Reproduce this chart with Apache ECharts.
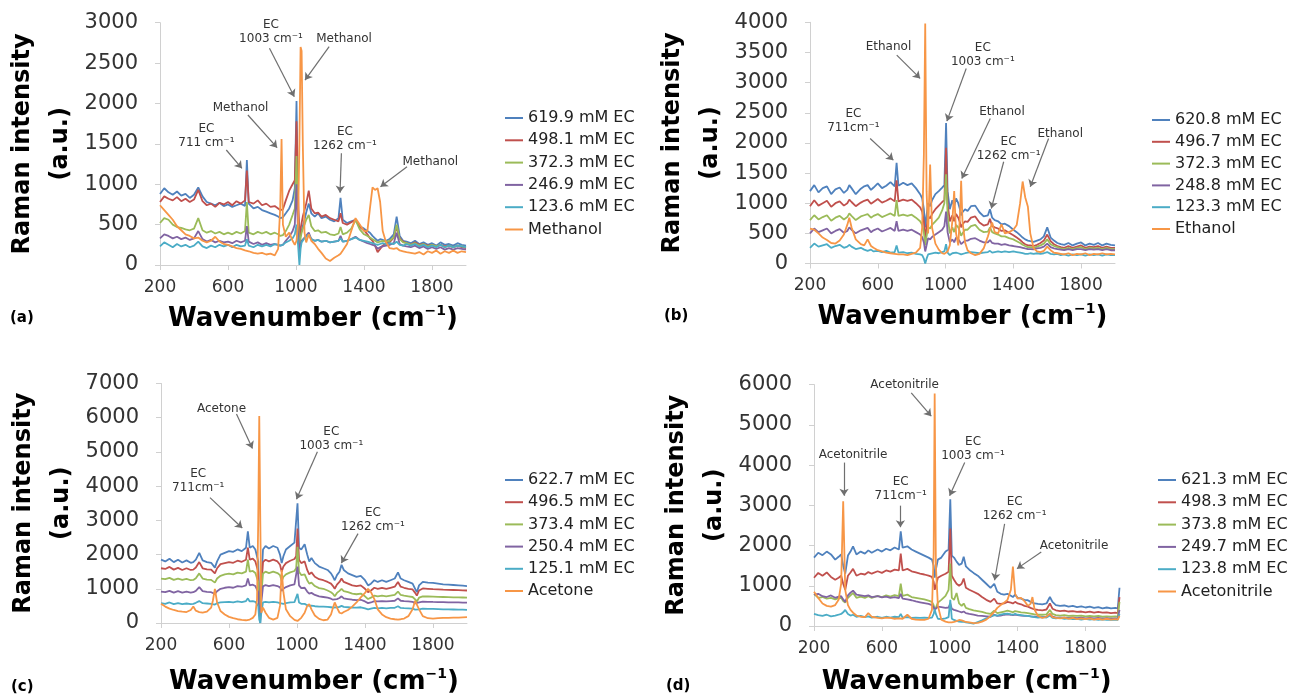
<!DOCTYPE html>
<html><head><meta charset="utf-8">
<script src="https://cdn.jsdelivr.net/npm/echarts@6/dist/echarts.min.js"></script>
<style>html,body{margin:0;padding:0;background:#fff}#c{width:1289px;height:698px}</style>
</head><body><div id="c"></div>
<script>
// ---------- Panel (a): methanol ----------
const xA = [200,225,250,275,300,325,350,375,400,425,450,475,500,525,550,575,600,625,650,675,700,711,722,750,775,800,825,850,875,895,907,915,923,940,960,980,993,1003,1012,1020,1027,1033,1040,1050,1060,1075,1090,1110,1130,1150,1175,1200,1225,1250,1262,1275,1300,1325,1350,1375,1400,1420,1435,1450,1465,1480,1495,1510,1530,1550,1575,1592,1610,1630,1650,1675,1700,1725,1750,1775,1800,1825,1850,1875,1900,1925,1950,1975,2000];
const namesA = ['619.9 mM EC','498.1 mM EC','372.3 mM EC','246.9 mM EC','123.6 mM EC','Methanol'];
const aBlue = [880,950,900,870,910,860,880,830,870,960,850,780,760,740,770,730,750,720,740,760,730,1300,760,700,720,680,660,640,620,600,580,570,590,640,700,800,950,2030,700,300,380,420,480,560,650,760,640,600,640,580,600,560,540,580,830,560,520,540,560,480,450,420,400,360,330,300,320,310,300,320,380,600,360,300,290,270,300,260,280,250,270,240,280,250,260,240,270,250,240];
const aRed = [780,850,820,800,840,790,820,780,810,930,790,740,760,720,770,750,780,740,790,760,800,1170,780,760,800,740,760,720,730,700,680,660,690,800,920,1000,1050,1780,900,300,450,520,600,680,760,920,700,640,650,600,620,580,560,540,640,520,500,530,560,470,430,380,330,300,240,160,200,240,270,280,340,470,330,290,270,250,280,250,260,240,250,230,250,230,240,220,240,220,210];
const aGreen = [520,580,560,500,470,460,440,430,450,580,430,400,420,390,410,380,400,380,410,390,420,780,400,380,410,390,410,380,400,380,360,340,370,420,500,620,700,1350,600,200,330,400,450,500,560,620,480,420,430,400,410,380,370,390,470,380,400,450,560,440,380,360,340,320,300,280,290,300,290,300,340,500,320,280,270,250,270,240,260,230,250,230,250,220,240,220,240,230,220];
const aPurple = [330,380,360,330,350,320,340,310,330,420,320,290,310,280,300,280,290,270,300,280,300,480,290,260,280,250,270,250,260,250,240,230,250,300,350,420,500,1000,400,150,260,300,320,340,360,400,320,300,310,290,300,280,290,300,360,290,300,320,350,310,290,270,260,250,240,200,220,230,240,250,270,400,260,240,230,220,240,210,230,200,220,200,220,190,210,190,210,200,190];
const aCyan = [230,280,250,220,260,230,250,220,240,290,230,210,240,220,250,230,250,220,250,230,240,320,240,220,250,230,250,230,260,250,240,230,250,280,300,330,380,500,250,0,200,280,300,330,350,380,320,300,310,290,300,280,290,300,330,290,300,320,340,310,300,290,280,270,260,250,260,270,260,270,260,290,250,240,260,240,260,230,250,220,240,220,250,220,240,220,240,230,220];
const aOrange = [740,680,620,560,480,430,380,360,330,340,300,280,300,350,290,260,250,230,210,200,180,190,170,150,140,150,130,140,120,200,700,1560,500,350,400,300,250,300,500,1500,2700,2650,1500,400,280,380,300,260,200,150,80,50,90,120,140,180,260,420,580,500,420,420,700,960,930,950,780,420,280,210,200,210,180,170,160,150,140,160,130,170,150,180,140,170,150,180,150,170,160];

// ---------- Panel (b): ethanol ----------
const xB = [200,225,250,275,300,325,350,375,400,420,432,445,470,500,520,540,560,575,600,625,650,675,700,711,722,750,775,800,825,850,862,872,880,888,897,909,920,940,960,980,993,1003,1012,1025,1040,1051,1062,1075,1085,1092,1100,1115,1130,1150,1175,1200,1225,1250,1262,1275,1290,1310,1330,1350,1375,1400,1420,1440,1455,1470,1486,1500,1520,1540,1560,1580,1600,1620,1640,1660,1680,1700,1725,1750,1775,1800,1825,1850,1875,1900,1925,1950,1975,2000];
const namesB = ['620.8 mM EC','496.7 mM EC','372.3 mM EC','248.8 mM EC','123.3 mM EC','Ethanol'];
const bBlue = [1200,1300,1180,1250,1280,1150,1230,1260,1170,1220,1300,1250,1150,1240,1280,1300,1220,1260,1330,1250,1290,1350,1280,1670,1290,1340,1300,1330,1250,1150,1080,900,600,800,1000,950,1050,1150,1200,1260,1300,2330,1200,900,1050,950,1080,1000,900,800,850,900,870,950,960,850,780,800,900,760,720,700,650,660,620,560,520,470,430,400,380,370,360,380,400,450,600,430,380,340,320,310,340,300,330,350,300,330,310,340,300,330,310,300];
const bRed = [950,1050,960,1000,1040,940,1000,1030,960,1000,1060,1020,950,1010,1040,1060,990,1020,1070,1010,1040,1080,1030,1380,1030,1060,1040,1060,1000,930,860,700,400,600,780,750,820,900,960,1020,1050,1920,1000,700,800,700,820,760,680,600,650,700,690,760,780,680,630,650,740,620,600,580,540,550,510,470,430,390,350,320,300,300,290,310,340,380,480,370,320,290,270,260,290,260,280,300,260,280,270,290,260,280,260,260];
const bGreen = [720,800,730,770,800,710,760,790,730,770,830,790,720,780,800,820,760,790,820,770,800,830,790,1050,790,810,790,810,760,700,640,520,300,450,600,580,640,700,760,880,1000,1480,800,500,600,520,640,600,520,460,500,560,560,620,640,560,520,530,600,520,500,480,450,450,420,400,370,340,310,290,270,270,260,280,300,330,400,320,290,270,250,240,260,240,260,270,240,260,250,260,240,260,240,240];
const bPurple = [500,580,520,550,580,500,540,570,510,540,600,560,500,550,570,590,520,550,580,530,560,590,540,700,540,560,540,560,520,480,440,350,200,300,420,400,440,480,520,560,620,860,520,350,400,350,430,400,360,320,340,380,380,410,420,380,350,350,390,340,330,330,310,320,300,290,280,270,260,250,240,240,235,250,260,280,330,270,250,240,230,220,240,220,240,240,220,240,230,240,220,240,220,220];
const bCyan = [260,330,280,300,320,260,290,310,260,280,310,280,240,260,230,210,230,200,210,190,210,180,190,300,180,190,170,180,160,150,140,80,0,80,150,160,170,180,170,190,200,320,180,140,170,160,180,170,160,150,160,170,180,190,180,170,180,190,210,180,190,200,190,200,190,200,190,180,170,160,160,170,160,170,160,170,190,160,150,160,140,150,130,150,140,150,130,150,140,150,130,150,140,140];
const bOrange = [580,560,500,430,390,340,330,380,480,640,760,600,400,320,300,400,290,260,220,200,180,170,160,170,150,150,140,160,180,260,600,1800,3980,1200,500,1640,600,330,230,170,160,170,200,300,700,1200,500,300,800,1370,700,350,220,170,140,160,250,450,560,680,520,500,650,500,520,560,640,1000,1360,1100,940,500,250,200,190,210,280,220,180,170,160,150,170,140,160,150,170,140,160,150,170,150,160,150];

// ---------- Panel (c): acetone ----------
const xC = [200,225,250,275,300,325,350,375,390,405,425,445,470,495,505,517,530,550,575,600,625,650,675,700,711,722,740,755,765,772,778,784,790,800,815,835,860,885,900,910,920,935,960,985,995,1003,1012,1025,1045,1060,1072,1085,1105,1130,1155,1180,1200,1212,1222,1235,1250,1262,1275,1300,1325,1350,1375,1400,1418,1435,1455,1475,1500,1525,1550,1575,1594,1610,1630,1655,1680,1695,1705,1718,1740,1770,1800,1830,1860,1890,1920,1950,1975,2000];
const namesC = ['622.7 mM EC','496.5 mM EC','373.4 mM EC','250.4 mM EC','125.1 mM EC','Acetone'];
const cBlue = [1850,1800,1880,1780,1850,1770,1830,1760,1780,1850,2050,1830,1780,1760,1720,1620,1800,2000,2050,2100,2080,2150,2100,2200,2680,2200,2250,2150,2200,1800,500,0,1200,2150,2250,2180,2250,2200,2000,1750,1950,2150,2250,2350,2400,3500,2200,2150,2300,2000,1800,1900,1750,1650,1600,1550,1450,1350,1250,1400,1500,1700,1550,1450,1400,1350,1380,1250,1100,1150,1250,1200,1250,1200,1250,1300,1480,1300,1250,1200,1150,1000,900,1100,1200,1180,1170,1150,1130,1120,1110,1100,1090,1080];
const cRed = [1600,1580,1640,1560,1610,1550,1600,1550,1560,1620,1780,1600,1570,1560,1530,1450,1600,1720,1750,1780,1760,1820,1790,1850,2200,1850,1880,1800,1820,1500,400,300,1000,1780,1850,1800,1850,1800,1700,1500,1650,1750,1820,1870,1950,2760,1850,1750,1800,1550,1420,1480,1350,1280,1250,1200,1150,1080,1000,1120,1200,1300,1200,1150,1100,1080,1100,1000,900,950,1030,1000,1030,1000,1030,1060,1200,1060,1030,1000,980,880,800,950,1010,1000,990,985,975,970,965,960,955,950];
const cGreen = [1300,1280,1320,1260,1300,1260,1290,1250,1260,1310,1450,1300,1270,1260,1240,1180,1300,1380,1420,1440,1420,1470,1450,1500,1850,1500,1520,1460,1470,1200,300,300,800,1450,1500,1460,1500,1460,1400,1220,1350,1420,1480,1520,1600,2230,1500,1400,1420,1250,1150,1180,1080,1020,1000,950,900,850,780,880,940,1000,930,900,860,840,860,780,700,740,800,780,800,780,800,820,920,820,800,780,760,690,630,740,780,775,770,765,760,755,750,750,745,740];
const cPurple = [920,900,940,890,930,890,920,890,900,940,1050,930,910,900,890,850,930,1000,1030,1050,1030,1080,1060,1100,1300,1100,1120,1080,1090,900,200,200,600,1070,1110,1080,1110,1080,1040,940,1000,1050,1100,1130,1180,1650,1100,1020,1030,920,860,880,820,780,760,740,710,680,630,700,730,780,720,700,680,670,680,630,580,600,640,630,640,630,640,650,720,650,640,630,620,570,530,600,625,620,615,612,610,605,600,600,598,595];
const cCyan = [580,560,600,550,580,550,570,550,560,590,640,580,570,560,560,540,580,600,610,620,600,630,610,640,720,630,640,620,620,500,100,0,300,600,620,600,620,600,580,540,560,580,600,610,640,850,600,560,560,520,500,510,490,480,480,470,460,450,430,460,470,500,470,460,450,450,460,430,400,420,440,430,440,430,440,445,490,440,435,430,420,390,360,400,420,415,410,405,400,400,395,390,390,385];
const cOrange = [560,480,420,380,350,330,320,380,480,360,320,300,330,450,650,1000,600,350,250,180,140,110,90,80,90,100,150,250,700,3000,6050,3000,300,450,300,150,100,150,500,1550,900,400,200,90,70,60,80,150,300,500,550,400,220,120,80,100,250,450,600,450,300,280,320,380,480,600,750,880,1000,900,700,400,250,170,130,110,100,110,130,200,400,650,700,400,200,140,130,140,150,150,160,160,165,170];

// ---------- Panel (d): acetonitrile ----------
const xD = [200,225,250,275,300,325,345,360,372,384,400,415,430,450,475,500,520,540,575,600,625,650,675,700,711,722,750,775,800,825,850,875,895,905,911,918,930,950,975,993,1003,1012,1025,1040,1055,1070,1082,1095,1115,1140,1165,1190,1215,1240,1262,1280,1300,1320,1340,1360,1372,1385,1400,1420,1440,1460,1476,1487,1500,1520,1545,1570,1590,1605,1625,1650,1675,1700,1725,1750,1775,1800,1825,1850,1875,1900,1925,1950,1975,1990,2000];
const namesD = ['621.3 mM EC','498.3 mM EC','373.8 mM EC','249.7 mM EC','123.8 mM EC','Acetonitrile'];
const dBlue = [1700,1820,1760,1850,1780,1650,1720,1780,1500,1300,1750,1850,1980,1780,1850,1800,1880,1820,1900,1850,1920,1880,1950,1900,2350,1950,1980,1900,1850,1800,1750,1700,1650,1500,1200,1400,1650,1700,1850,1900,3150,1750,1700,1600,1520,1550,1720,1480,1400,1320,1250,1150,1050,950,1050,850,800,780,800,750,720,780,700,680,650,640,600,580,560,550,540,560,720,600,520,500,510,480,500,470,490,460,480,450,470,440,460,440,450,440,950];
const dRed = [1200,1320,1250,1330,1220,1150,1200,1250,1050,900,1250,1330,1420,1250,1300,1280,1340,1300,1360,1320,1380,1350,1400,1380,1800,1380,1420,1360,1330,1300,1280,1250,1220,1100,900,1000,1200,1250,1300,1350,2420,1250,1150,1050,1000,1050,1180,950,900,850,800,720,650,600,680,560,550,560,600,580,560,600,560,540,500,480,450,430,410,400,390,410,560,430,390,370,380,360,370,350,360,340,360,330,350,330,340,320,330,320,720];
const dGreen = [800,700,720,680,700,660,690,700,620,580,700,760,820,700,730,700,740,700,750,720,760,730,770,740,1050,750,780,720,700,680,660,630,600,520,400,450,580,650,750,900,1550,700,650,820,560,500,560,450,420,390,370,350,320,300,380,320,340,360,380,360,340,370,360,340,330,320,310,300,290,280,280,290,400,300,270,260,270,250,260,250,260,240,250,240,250,230,240,230,240,230,600];
const dPurple = [780,800,740,720,760,700,730,740,660,600,760,830,880,780,760,740,760,720,740,710,730,700,720,690,800,680,660,640,610,590,570,550,520,470,400,430,480,470,450,460,560,430,400,380,360,340,360,320,300,280,260,250,240,230,280,250,260,280,290,280,270,280,270,260,250,250,240,230,230,220,220,230,300,230,210,205,210,200,205,195,205,190,200,190,200,185,195,185,190,185,400];
const dCyan = [300,270,250,280,240,260,280,300,340,400,300,260,280,230,250,220,240,210,230,200,230,210,230,220,300,210,220,200,210,200,210,200,210,300,420,300,180,170,190,220,650,180,150,130,110,100,110,90,80,60,100,140,190,230,270,260,280,300,310,290,280,300,280,270,260,250,240,230,220,210,220,210,260,200,190,200,180,190,170,180,160,175,160,170,155,165,150,160,150,155,300];
const dOrange = [850,700,560,500,480,520,650,1050,3100,900,520,400,330,260,230,220,320,230,200,190,210,200,180,190,170,180,280,180,160,150,150,180,400,1800,5780,1500,500,160,110,90,80,90,100,120,150,140,120,100,90,70,80,110,160,250,350,450,520,580,650,900,1480,800,680,700,620,500,550,720,400,250,200,230,300,220,200,190,210,180,200,170,190,170,190,160,180,160,180,160,170,160,250];

// ---------- Tick settings ----------
const xTicks = {min:200, max:2000, interval:400};
const yScaleA = {min:0, max:3000, interval:500};
const yScaleB = {min:0, max:4000, interval:500};
const yScaleC = {min:0, max:7000, interval:1000};
const yScaleD = {min:0, max:6000, interval:1000};

// ---------- Annotations (data coordinates) ----------
const annA = [['EC\n711 cm⁻¹',473,1600],['Methanol',674,1948],['EC\n1003 cm⁻¹',853,2890],['Methanol',1283,2798],['EC\n1262 cm⁻¹',1288,1558],['Methanol',1790,1280]];
const arrowsA = [[590,1424,682,1197],[717,1857,889,1453],[844,2683,990,2084],[1195,2703,1053,2290],[1267,1383,1259,896],[1653,1217,1497,970]];
const annB = [['EC\n711cm⁻¹',456,2364],['Ethanol',663,3595],['EC\n1003 cm⁻¹',1220,3456],['Ethanol',1333,2516],['EC\n1262 cm⁻¹',1372,1894],['Ethanol',1677,2157]];
const arrowsB = [[555,2074,692,1714],[712,3456,850,3069],[1122,3235,1008,2361],[1264,2405,1096,1410],[1343,1687,1270,912],[1608,2074,1500,1272]];
const annC = [['Acetone',556,6249],['EC\n711cm⁻¹',419,4143],['EC\n1003 cm⁻¹',1202,5388],['EC\n1262 cm⁻¹',1447,3010]];
const arrowsC = [[644,6106,738,5101],[488,3665,678,2775],[1120,5005,997,3617],[1359,2613,1261,1751]];
const annD = [['Acetonitrile',734,5990],['Acetonitrile',430,4252],['EC\n711cm⁻¹',711,3403],['EC\n1003 cm⁻¹',1137,4405],['EC\n1262 cm⁻¹',1382,2908],['Acetonitrile',1732,2002]];
const arrowsD = [[773,5793,891,5216],[377,4062,377,3238],[709,2991,709,2456],[1088,4062,999,3238],[1323,2538,1264,1137],[1539,1838,1396,1426]];

// ---------- Layout & style ----------
const FONT = 'DejaVu Sans';
const COLORS = ['#4F81BD','#C0504D','#9BBB59','#8064A2','#4BACC6','#F79646'];
const panels = [
  {x:xA, ys:[aBlue,aRed,aGreen,aPurple,aCyan,aOrange], names:namesA, ys_:yScaleA, ann:annA, arrows:arrowsA,
   grid:{left:160, top:22.7, width:306, height:242.3}, leg:{left:505, top:110, gap:6.3}, xGap:39, tag:'(a)', tagPos:[10,311]},
  {x:xB, ys:[bBlue,bRed,bGreen,bPurple,bCyan,bOrange], names:namesB, ys_:yScaleB, ann:annB, arrows:arrowsB,
   grid:{left:810, top:22.3, width:305, height:241.2}, leg:{left:1152, top:112, gap:5.8}, xGap:39, tag:'(b)', tagPos:[664,309]},
  {x:xC, ys:[cBlue,cRed,cGreen,cPurple,cCyan,cOrange], names:namesC, ys_:yScaleC, ann:annC, arrows:arrowsC,
   grid:{left:161, top:383.5, width:306, height:243.8}, leg:{left:505, top:472, gap:6.2}, xGap:44, tag:'(c)', tagPos:[11,680]},
  {x:xD, ys:[dBlue,dRed,dGreen,dPurple,dCyan,dOrange], names:namesD, ys_:yScaleD, ann:annD, arrows:arrowsD,
   grid:{left:814, top:384.6, width:305.5, height:242.7}, leg:{left:1158, top:472, gap:6.3}, xGap:41, tag:'(d)', tagPos:[666,679]}
];

const grid=[], xAxis=[], yAxis=[], legend=[], series=[], graphic=[];
const axisLineColor = '#d0d0d0';
const plain = v => String(v);
panels.forEach((p,i)=>{
  grid.push(Object.assign({containLabel:false}, p.grid));
  xAxis.push({gridIndex:i, type:'value', min:xTicks.min, max:xTicks.max, interval:xTicks.interval,
    axisLine:{show:true, onZero:false, lineStyle:{color:axisLineColor, width:1}},
    axisTick:{show:true, length:5, lineStyle:{color:axisLineColor}},
    axisLabel:{fontSize:17, color:'#333', fontFamily:FONT, margin:14, showMaxLabel:false, formatter:plain},
    splitLine:{show:false},
    name:'Wavenumber (cm{sup|−1})', nameLocation:'middle', nameGap:p.xGap,
    nameTextStyle:{fontSize:26, fontWeight:'bold', color:'#000', fontFamily:FONT, lineHeight:30,
      rich:{sup:{fontSize:14, fontWeight:'bold', color:'#000', fontFamily:FONT, verticalAlign:'top', lineHeight:30}}}
  });
  yAxis.push({gridIndex:i, type:'value', min:p.ys_.min, max:p.ys_.max, interval:p.ys_.interval,
    axisLine:{show:true, lineStyle:{color:axisLineColor, width:1}},
    axisTick:{show:true, length:5, lineStyle:{color:axisLineColor}},
    axisLabel:{fontSize:21, color:'#333', fontFamily:FONT, margin:22, formatter:plain},
    splitLine:{show:false},
    name:'Raman intensity\n(a.u.)', nameLocation:'middle', nameGap:80,
    nameTextStyle:{fontSize:24, fontWeight:'bold', color:'#000', fontFamily:FONT, lineHeight:38}
  });
  legend.push({orient:'vertical', left:p.leg.left, top:p.leg.top, itemGap:p.leg.gap, padding:0,
    itemWidth:18, itemHeight:2, icon:'rect', selectedMode:false, data:p.names,
    textStyle:{fontSize:16, color:'#222', fontFamily:FONT}});
  p.ys.forEach((ys,k)=>{
    const s = {type:'line', name:p.names[k], xAxisIndex:i, yAxisIndex:i,
      data:p.x.map((x,j)=>[x, ys[j]]), showSymbol:false, symbol:'none', silent:true,
      lineStyle:{width:1.8, color:COLORS[k]}, itemStyle:{color:COLORS[k]}};
    if(k===5){
      s.markPoint = {symbol:'rect', symbolSize:1, silent:true, itemStyle:{color:'rgba(0,0,0,0)'},
        label:{show:true, position:'inside', formatter:'{b}', color:'#333', fontSize:12, lineHeight:14, fontFamily:FONT},
        data:p.ann.map(a=>({name:a[0], coord:[a[1],a[2]]}))};
      s.markLine = {silent:true, symbol:['none','arrow'], symbolSize:7, label:{show:false},
        lineStyle:{color:'#6f6f6f', width:1.2, type:'solid'},
        itemStyle:{color:'#6f6f6f'},
        data:p.arrows.map(a=>[{coord:[a[0],a[1]]},{coord:[a[2],a[3]], symbol:'arrow', symbolSize:7}])};
    }
    series.push(s);
  });
  graphic.push({type:'text', left:p.tagPos[0], top:p.tagPos[1],
    style:{text:p.tag, font:'bold 15px "DejaVu Sans"', fill:'#000'}});
});

const chart = echarts.init(document.getElementById('c'), null, {renderer:'canvas'});
chart.setOption({animation:false, backgroundColor:'#fff', color:COLORS, grid, xAxis, yAxis, legend, series, graphic});
</script></body></html>
